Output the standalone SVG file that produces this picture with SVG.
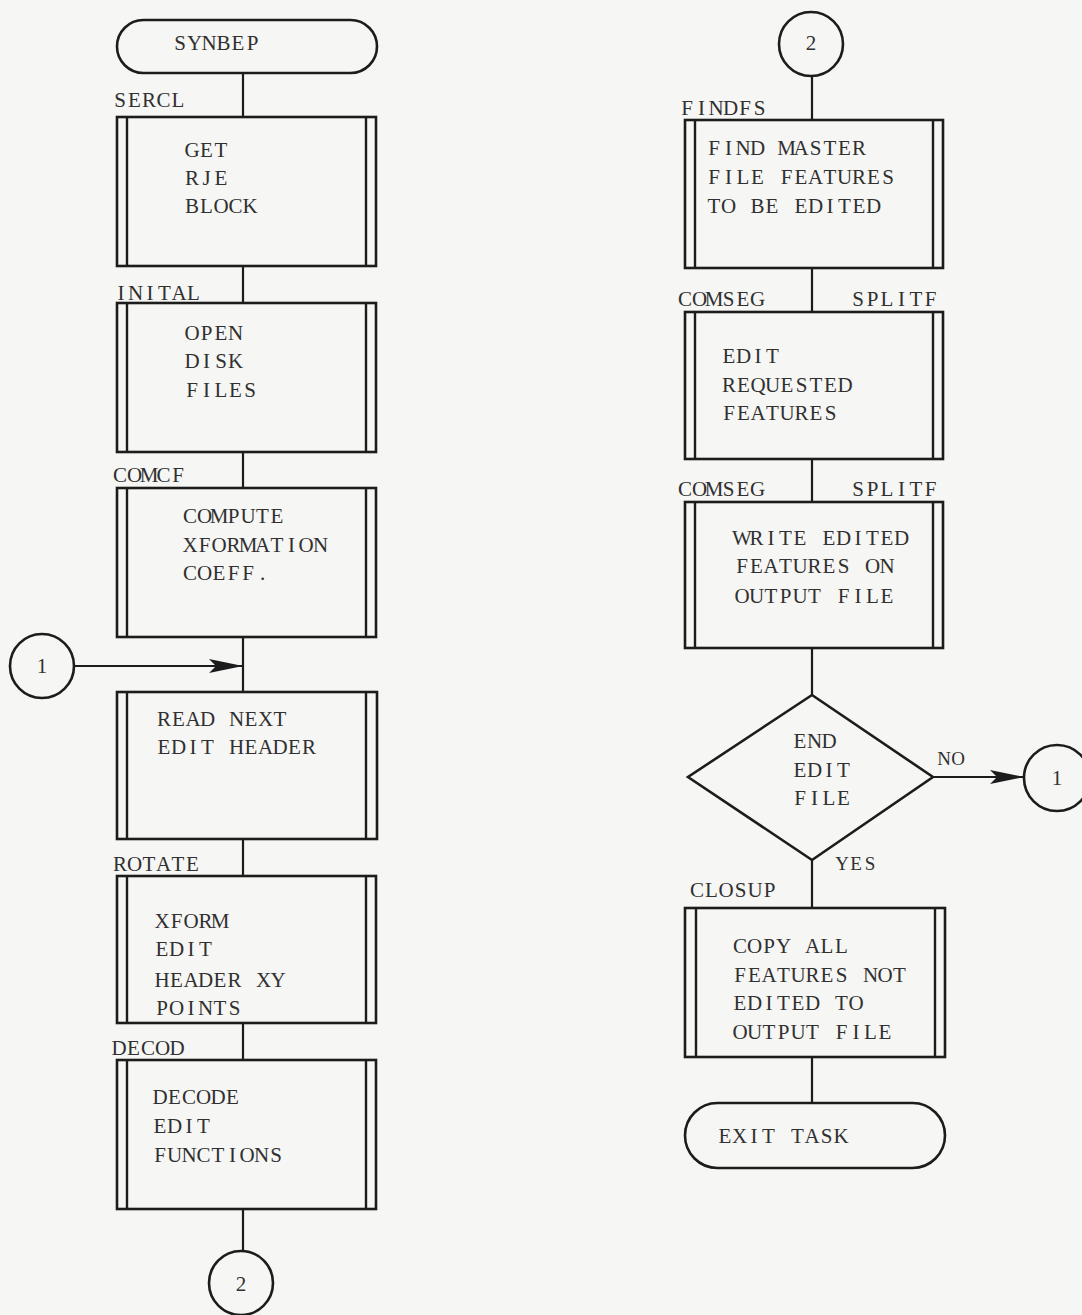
<svg xmlns="http://www.w3.org/2000/svg" width="1082" height="1315" viewBox="0 0 1082 1315">
<defs>
<style>
.bg{fill:#f6f6f4}
.shape{fill:none;stroke:#1c1c1c;stroke-width:2.6}
.bar{stroke:#1c1c1c;stroke-width:2.4}
.conn{fill:none;stroke:#1c1c1c;stroke-width:2.2}
text{font-family:"Liberation Serif","Times New Roman",serif;font-size:21px;fill:#303030;text-anchor:middle}
.num{font-size:21px}
.small{font-size:19px}
</style>
<marker id="arr" markerWidth="34" markerHeight="14" refX="34" refY="7" orient="auto" markerUnits="userSpaceOnUse">
<path d="M0,0 L34,7 L0,14 L7,7 Z" fill="#1c1c1c"/>
</marker>
</defs>
<rect class="bg" x="0" y="0" width="1082" height="1315"/>

<g id="connectors">
<line class="conn" x1="243" y1="73" x2="243" y2="117"/>
<line class="conn" x1="243" y1="266" x2="243" y2="303"/>
<line class="conn" x1="243" y1="452" x2="243" y2="488"/>
<line class="conn" x1="243" y1="637" x2="243" y2="692"/>
<line class="conn" x1="74" y1="666" x2="243" y2="666" marker-end="url(#arr)"/>
<line class="conn" x1="243" y1="839" x2="243" y2="876"/>
<line class="conn" x1="243" y1="1023" x2="243" y2="1060"/>
<line class="conn" x1="243" y1="1209" x2="243" y2="1251"/>
<line class="conn" x1="812" y1="76" x2="812" y2="120"/>
<line class="conn" x1="812" y1="268" x2="812" y2="312"/>
<line class="conn" x1="812" y1="459" x2="812" y2="502"/>
<line class="conn" x1="812" y1="648" x2="812" y2="695"/>
<line class="conn" x1="933" y1="777" x2="1024" y2="777" marker-end="url(#arr)"/>
<line class="conn" x1="812" y1="860" x2="812" y2="908"/>
<line class="conn" x1="812" y1="1057" x2="812" y2="1103"/>
</g>

<g id="synbep">
<rect class="shape" x="117" y="20" width="260" height="53" rx="26.5"/>
<text x="180 194.5 209 223.5 238 252.5" y="50">SYNBEP</text>
</g>

<g id="sercl">
<text x="120 134.5 149 163.5 178" y="107">SERCL</text>
<rect class="shape" x="117" y="117" width="259" height="149"/>
<line class="bar" x1="127" y1="117" x2="127" y2="266"/>
<line class="bar" x1="366" y1="117" x2="366" y2="266"/>
<text x="192 206.5 221" y="157">GET</text>
<text x="192 206.5 221" y="185">RJE</text>
<text x="192 206.5 221 235.5 250" y="213">BLOCK</text>
</g>

<g id="inital">
<text x="121 135.5 150 164.5 179 193.5" y="300">INITAL</text>
<rect class="shape" x="117" y="303" width="259" height="149"/>
<line class="bar" x1="127" y1="303" x2="127" y2="452"/>
<line class="bar" x1="366" y1="303" x2="366" y2="452"/>
<text x="192 206.5 221 235.5" y="340">OPEN</text>
<text x="192 206.5 221 235.5" y="368">DISK</text>
<text x="192 206.5 221 235.5 250" y="397">FILES</text>
</g>

<g id="comcf">
<text x="120 134.5 149 163.5 178" y="482">COMCF</text>
<rect class="shape" x="117" y="488" width="259" height="149"/>
<line class="bar" x1="127" y1="488" x2="127" y2="637"/>
<line class="bar" x1="366" y1="488" x2="366" y2="637"/>
<text x="190 204.5 219 233.5 248 262.5 277" y="523">COMPUTE</text>
<text x="190 204.5 219 233.5 248 262.5 277 291.5 306 320.5" y="552">XFORMATION</text>
<text x="190 204.5 219 233.5 248 262.5" y="580">COEFF.</text>
</g>

<g id="conn1-left">
<circle class="shape" cx="42" cy="666" r="32"/>
<text class="num" x="42" y="673">1</text>
</g>

<g id="readnext">
<rect class="shape" x="117" y="692" width="260" height="147"/>
<line class="bar" x1="127" y1="692" x2="127" y2="839"/>
<line class="bar" x1="366" y1="692" x2="366" y2="839"/>
<text x="164 178.5 193 207.5 222 236.5 251 265.5 280" y="726">READ NEXT</text>
<text x="164 178.5 193 207.5 222 236.5 251 265.5 280 294.5 309" y="754">EDIT HEADER</text>
</g>

<g id="rotate">
<text x="120 134.5 149 163.5 178 192.5" y="871">ROTATE</text>
<rect class="shape" x="117" y="876" width="259" height="147"/>
<line class="bar" x1="127" y1="876" x2="127" y2="1023"/>
<line class="bar" x1="366" y1="876" x2="366" y2="1023"/>
<text x="162 176.5 191 205.5 220" y="928">XFORM</text>
<text x="162 176.5 191 205.5" y="956">EDIT</text>
<text x="162 176.5 191 205.5 220 234.5 249 263.5 278" y="987">HEADER XY</text>
<text x="162 176.5 191 205.5 220 234.5" y="1015">POINTS</text>
</g>

<g id="decod">
<text x="119 133.5 148 162.5 177" y="1055">DECOD</text>
<rect class="shape" x="117" y="1060" width="259" height="149"/>
<line class="bar" x1="127" y1="1060" x2="127" y2="1209"/>
<line class="bar" x1="366" y1="1060" x2="366" y2="1209"/>
<text x="160 174.5 189 203.5 218 232.5" y="1104">DECODE</text>
<text x="160 174.5 189 203.5" y="1133">EDIT</text>
<text x="160 174.5 189 203.5 218 232.5 247 261.5 276" y="1162">FUNCTIONS</text>
</g>

<g id="conn2-bottom">
<circle class="shape" cx="241" cy="1283" r="32"/>
<text class="num" x="241" y="1291">2</text>
</g>

<g id="conn2-top">
<circle class="shape" cx="811" cy="44" r="32"/>
<text class="num" x="811" y="50">2</text>
</g>

<g id="findfs">
<text x="687 701.5 716 730.5 745 759.5" y="115">FINDFS</text>
<rect class="shape" x="685" y="120" width="258" height="148"/>
<line class="bar" x1="695" y1="120" x2="695" y2="268"/>
<line class="bar" x1="933" y1="120" x2="933" y2="268"/>
<text x="714 728.5 743 757.5 772 786.5 801 815.5 830 844.5 859" y="155">FIND MASTER</text>
<text x="714 728.5 743 757.5 772 786.5 801 815.5 830 844.5 859 873.5 888" y="184">FILE FEATURES</text>
<text x="714 728.5 743 757.5 772 786.5 801 815.5 830 844.5 859 873.5" y="213">TO BE EDITED</text>
</g>

<g id="edit-requested">
<text x="685 699.5 714 728.5 743 757.5" y="306">COMSEG</text>
<text x="858 872.5 887 901.5 916 930.5" y="306">SPLITF</text>
<rect class="shape" x="685" y="312" width="258" height="147"/>
<line class="bar" x1="695" y1="312" x2="695" y2="459"/>
<line class="bar" x1="933" y1="312" x2="933" y2="459"/>
<text x="729 743.5 758 772.5" y="363">EDIT</text>
<text x="729 743.5 758 772.5 787 801.5 816 830.5 845" y="392">REQUESTED</text>
<text x="729 743.5 758 772.5 787 801.5 816 830.5" y="420">FEATURES</text>
</g>

<g id="write-edited">
<text x="685 699.5 714 728.5 743 757.5" y="496">COMSEG</text>
<text x="858 872.5 887 901.5 916 930.5" y="496">SPLITF</text>
<rect class="shape" x="685" y="502" width="258" height="146"/>
<line class="bar" x1="695" y1="502" x2="695" y2="648"/>
<line class="bar" x1="933" y1="502" x2="933" y2="648"/>
<text x="742 756.5 771 785.5 800 814.5 829 843.5 858 872.5 887 901.5" y="545">WRITE EDITED</text>
<text x="742 756.5 771 785.5 800 814.5 829 843.5 858 872.5 887" y="573">FEATURES ON</text>
<text x="742 756.5 771 785.5 800 814.5 829 843.5 858 872.5 887" y="603">OUTPUT FILE</text>
</g>

<g id="end-edit-file">
<polygon class="shape" points="812,695 933,777 812,860 688,777"/>
<text x="800 814.5 829" y="748">END</text>
<text x="800 814.5 829 843.5" y="777">EDIT</text>
<text x="800 814.5 829 843.5" y="805">FILE</text>
<text class="small" x="944 958" y="765">NO</text>
<text class="small" x="842 856 870" y="870">YES</text>
</g>

<g id="conn1-right">
<circle class="shape" cx="1057" cy="778" r="33"/>
<text class="num" x="1057" y="785">1</text>
</g>

<g id="closup">
<text x="697 711.5 726 740.5 755 769.5" y="897">CLOSUP</text>
<rect class="shape" x="685" y="908" width="260" height="149"/>
<line class="bar" x1="696" y1="908" x2="696" y2="1057"/>
<line class="bar" x1="935" y1="908" x2="935" y2="1057"/>
<text x="740 754.5 769 783.5 798 812.5 827 841.5" y="953">COPY ALL</text>
<text x="740 754.5 769 783.5 798 812.5 827 841.5 856 870.5 885 899.5" y="982">FEATURES NOT</text>
<text x="740 754.5 769 783.5 798 812.5 827 841.5 856" y="1010">EDITED TO</text>
<text x="740 754.5 769 783.5 798 812.5 827 841.5 856 870.5 885" y="1039">OUTPUT FILE</text>
</g>

<g id="exit-task">
<rect class="shape" x="685" y="1103" width="260" height="65" rx="32.5"/>
<text x="725 739.5 754 768.5 783 797.5 812 826.5 841" y="1143">EXIT TASK</text>
</g>
</svg>
